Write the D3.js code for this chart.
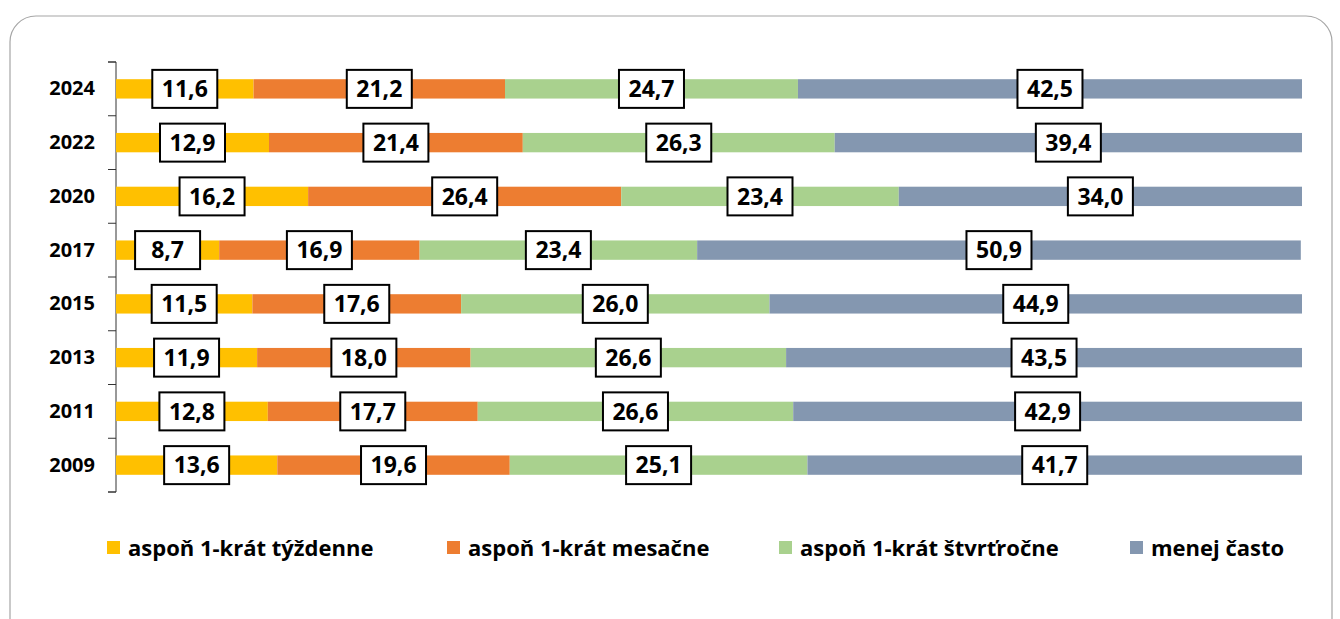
<!DOCTYPE html>
<html>
<head>
<meta charset="utf-8">
<script src="https://cdn.jsdelivr.net/npm/d3@7"></script>
<style>
  body { margin: 0; background: #fff; }
  svg { display: block; font-family: "Open Sans", Lato, sans-serif; }
</style>
</head>
<body>
<svg id="chart" width="1340" height="619"></svg>
<script>
const years = ['2024', '2022', '2020', '2017', '2015', '2013', '2011', '2009']
const series = ['aspoň 1-krát týždenne', 'aspoň 1-krát mesačne', 'aspoň 1-krát štvrťročne', 'menej často']
const weekly = [11.6, 12.9, 16.2, 8.7, 11.5, 11.9, 12.8, 13.6]
const monthly = [21.2, 21.4, 26.4, 16.9, 17.6, 18.0, 17.7, 19.6]
const quarterly = [24.7, 26.3, 23.4, 23.4, 26.0, 26.6, 26.6, 25.1]
const rarely = [42.5, 39.4, 34.0, 50.9, 44.9, 43.5, 42.9, 41.7]
const colors = ['#FFC000', '#ED7D31', '#A9D18E', '#8497B0']

const svg = d3.select('#chart')
const margin = { top: 62, left: 116, right: 38, bottom: 127 }
const width = 1340, height = 619

// frame
svg.append('rect')
    .attr('x', 10).attr('y', 16)
    .attr('width', 1322).attr('height', 640)
    .attr('rx', 26)
    .attr('fill', 'none')
    .attr('stroke', '#a6a6a6')
    .attr('stroke-width', 1.2)

const rows = years.map((y, i) => ({ year: y, vals: [weekly[i], monthly[i], quarterly[i], rarely[i]] }))

const x = d3.scaleLinear().domain([0, 100]).range([margin.left, width - margin.right])
const y = d3.scaleBand().domain(years).range([margin.top, height - margin.bottom]).paddingInner(0.64).paddingOuter(0.32)

const yAxis = svg.append('g')
    .attr('transform', `translate(${margin.left},0)`)
    .call(d3.axisLeft(y).tickSize(0).tickPadding(21))
yAxis.select('.domain').attr('stroke', '#333').attr('d', `M-8,${margin.top}H0V${height - margin.bottom}H-8`)
yAxis.selectAll('text')
    .attr('font-size', 20).attr('font-weight', 'bold').attr('fill', '#000')
    .attr('font-family', '"Open Sans", sans-serif')

// boundary ticks between categories
const bounds = d3.range(years.length + 1).map(i => margin.top + (height - margin.bottom - margin.top) * i / years.length)
svg.append('g').selectAll('line').data(bounds).enter().append('line')
    .attr('x1', margin.left - 8).attr('x2', margin.left)
    .attr('y1', d => d).attr('y2', d => d)
    .attr('stroke', '#333')

const segs = []
rows.forEach(r => {
    let acc = 0
    r.vals.forEach((v, k) => {
        segs.push({ year: r.year, k, v, x0: acc, x1: acc + v })
        acc += v
    })
})

svg.append('g').selectAll('rect').data(segs).enter().append('rect')
    .attr('x', d => x(d.x0))
    .attr('width', d => x(d.x1) - x(d.x0))
    .attr('y', d => y(d.year))
    .attr('height', y.bandwidth())
    .attr('fill', d => colors[d.k])

const labels = svg.append('g').selectAll('g').data(segs).enter().append('g')
    .attr('transform', d => `translate(${(x(d.x0) + x(d.x1)) / 2},${y(d.year) + y.bandwidth() / 2})`)

labels.append('rect')
    .attr('x', -32.5).attr('y', -19)
    .attr('width', 65).attr('height', 38)
    .attr('fill', '#fff')
    .attr('stroke', '#000')
    .attr('stroke-width', 2)

labels.append('text')
    .attr('text-anchor', 'middle')
    .attr('dy', '0.36em')
    .attr('font-size', 23)
    .attr('font-weight', 'bold')
    .text(d => d.v.toFixed(1).replace('.', ','))

// legend
const legendX = [107, 447, 779, 1130]
const legend = svg.append('g').selectAll('g').data(series).enter().append('g')
    .attr('transform', (d, i) => `translate(${legendX[i]},548)`)
legend.append('rect')
    .attr('x', 0).attr('y', -7)
    .attr('width', 13).attr('height', 13)
    .attr('fill', (d, i) => colors[i])
legend.append('text')
    .attr('x', 21).attr('dy', '0.35em')
    .attr('font-size', 22).attr('font-weight', 'bold')
    .text(d => d)
</script>
</body>
</html>
